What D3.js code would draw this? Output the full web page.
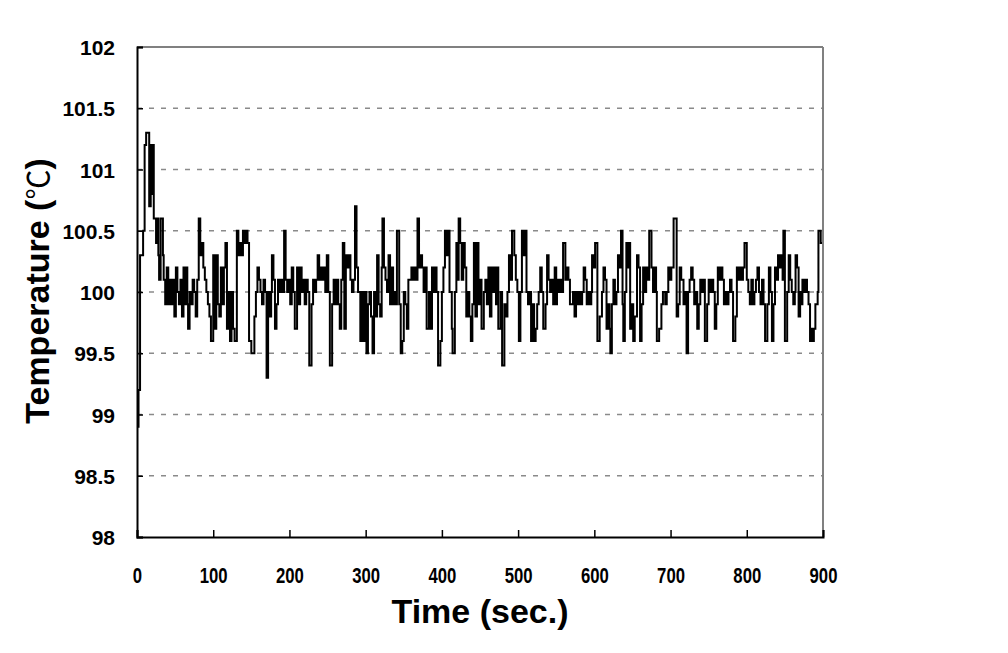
<!DOCTYPE html>
<html>
<head>
<meta charset="utf-8">
<script src="https://cdn.jsdelivr.net/npm/d3@7"></script>
<style>
  body { margin: 0; background: #fff; }
  svg { display: block; }
</style>
</head>
<body>
<script>
// time (sec.) at which each reading starts, and the reading (degC)
var times = [0,2,4,8,10,12,16,18,20,21,22,25,27,28,29,31,34,35,37,39,41,43,45,47,49,51,53,55,57,59,61,63,64,66,67,69,71,73,75,77,79,81,83,85,87,89,91,93,95,97,100,102,104,106,108,110,112,114,116,118,120,122,124,126,128,131,133,135,137,139,141,143,145,147,150,154,156,158,160,162,164,166,168,170,172,174,176,177,179,181,183,185,187,189,191,193,195,197,199,201,203,205,207,210,212,214,216,218,220,222,224,226,229,231,233,235,237,239,241,243,245,247,249,251,253,256,258,260,262,264,266,268,270,272,274,276,278,280,282,284,286,288,290,293,295,297,299,301,303,305,307,309,311,313,315,317,319,321,322,324,326,328,330,332,334,336,338,340,341,344,346,348,350,352,354,356,360,362,364,366,368,370,372,374,376,378,380,383,385,387,389,391,393,395,398,400,402,404,406,408,410,413,414,417,419,421,422,424,426,428,430,432,434,436,438,440,442,444,446,448,450,452,455,457,459,461,463,465,467,469,471,473,474,477,479,482,484,486,488,490,492,495,497,499,501,503,505,507,509,511,513,515,517,519,521,523,525,527,529,531,533,536,538,540,542,544,546,548,550,551,553,555,557,559,562,564,566,568,572,574,576,578,580,582,584,586,588,590,592,594,596,597,599,601,604,607,610,612,614,616,618,620,621,623,625,627,629,631,633,635,637,638,640,642,644,646,647,649,651,653,656,658,660,662,664,666,668,670,672,675,677,679,681,682,685,688,690,693,695,697,699,701,704,708,710,712,714,717,719,721,723,725,727,729,731,733,735,737,739,741,743,745,748,750,752,754,756,758,760,762,764,766,768,770,772,774,776,778,780,782,785,787,789,791,793,795,797,800,802,804,806,808,810,812,814,816,818,820,822,824,827,829,831,833,835,837,839,841,843,845,847,848,850,853,855,857,859,861,863,864,866,868,870,872,873,875,877,879,881,883,885,887,888,890,893,894,897,900];
var temps = [98.9,99.2,100.3,100.5,101.2,101.3,100.7,101.2,100.8,101.2,100.6,100.4,100.6,100.3,100.1,100.6,100.3,100.1,99.9,100.2,99.9,100.1,99.9,100.1,99.8,100.2,100,99.9,100.1,99.8,100.2,99.9,100.2,99.9,99.7,100,99.9,100.1,100,99.8,100.1,100.6,100.3,100.4,100.2,100.1,100,99.9,99.8,99.6,100.3,99.7,100.3,99.9,99.8,100.2,99.9,100.2,100.4,99.7,100,99.6,100,99.7,99.6,100.5,100.3,100.4,100.3,100.5,100.4,100.5,100.4,99.6,99.5,99.8,100,100.2,100.1,100,99.9,100.1,100,99.3,100,99.8,100,100.3,100.1,99.7,99.9,100.1,100,100.1,100,100.5,100.1,100,100.1,99.9,100.2,100,99.7,100.2,99.9,100.2,100,100.1,99.9,100.1,100,99.4,99.9,100.1,100,100.1,100.3,100.1,100.2,100.1,100.2,100,100.3,100,99.4,99.9,100.1,99.9,100.1,99.9,99.7,100.1,100.4,99.7,100.3,100.2,100.3,100.1,100,100.1,100.7,100.2,100,99.6,100,99.6,100,99.5,99.9,100,99.8,99.5,100,99.8,100.3,99.9,99.8,100.2,100.6,100.2,100.1,100,100.3,99.9,100.2,99.9,100,99.9,100.5,99.9,99.5,99.6,100,99.9,99.7,100.1,100.2,100.1,100.2,100.1,100.6,100.2,100.3,100.2,100,100.2,99.7,100,99.7,100.2,100,100.2,100,99.4,99.6,100,100.2,100.5,100.3,100.5,100,99.7,99.5,100,100.4,100.1,100.6,100.4,100.1,100.4,100.2,99.8,100,99.8,99.6,99.9,100.4,99.8,100.4,99.9,100.1,99.7,100,100.1,99.9,100.2,99.8,100.2,100,100.2,99.9,100.2,99.7,100,99.4,99.9,99.8,100,100.3,100.1,100.5,100.3,100.1,100,99.6,100,100.5,100.3,100.5,100,99.9,100,99.6,99.9,99.6,99.7,99.9,100,100.2,100,99.7,99.9,100.3,100.1,100,100.1,99.9,100.2,99.9,100.1,100,100.1,100,100.4,100.1,100.2,100.1,99.9,100,99.8,100,99.9,100,99.9,100,100.2,100.1,99.9,100,99.9,100,100.3,100.2,100.4,99.6,99.8,100,100.2,100.1,99.7,99.9,99.7,99.5,99.9,100.1,99.9,100,100.3,100.2,100.5,99.9,99.6,100,100.4,100.2,100.4,99.7,99.9,99.6,99.8,100.3,100.2,99.6,99.9,100.2,100,100.2,100.1,100.5,100.2,100,100.2,100,99.6,99.7,99.9,100,99.9,100,100.2,100.1,100.2,100.6,99.8,99.9,100.2,100.1,99.9,100,99.5,100,100.1,100.2,100.1,99.9,100,99.7,99.9,100.1,100,100.1,99.6,99.9,100.1,100,100.1,100,99.7,99.9,100.2,100.1,100.2,100.1,99.9,100,99.9,100,100.1,100,99.6,99.8,100.2,100.1,100.2,100.1,100.2,100.4,100.1,100,99.9,100.1,99.9,100,100.1,100.2,100,99.9,100.1,99.9,99.6,99.9,100.2,100,99.6,99.9,100.2,100.1,100.3,100.2,100.3,100.1,100.5,99.6,100,100.3,100.1,100,99.9,100,100.3,100.2,99.8,100,99.9,100.1,100,100.1,100,99.9,99.6,99.7,99.6,99.7,99.9,100,100.5,100.4,100.4];

var xTicks = [0, 100, 200, 300, 400, 500, 600, 700, 800, 900];
var yTicks = [98, 98.5, 99, 99.5, 100, 100.5, 101, 101.5, 102];

var w = 1008, h = 653;
var plotL = 137, plotR = 823, plotT = 47, plotB = 537;

var svg = d3.select("body").append("svg")
    .attr("width", w)
    .attr("height", h);

var x = d3.scaleLinear().domain([0, 900]).range([plotL, plotR]);
var y = d3.scaleLinear().domain([98, 102]).range([plotB, plotT]);

// dashed grid lines
svg.append("g")
    .selectAll("line")
    .data(yTicks.filter(function(d) { return d > 98 && d < 102; }))
    .enter().append("line")
    .attr("x1", plotL).attr("x2", plotR)
    .attr("y1", function(d) { return y(d); })
    .attr("y2", function(d) { return y(d); })
    .attr("stroke", "#8a8a8a")
    .attr("stroke-width", 1.5)
    .attr("stroke-dasharray", "5,7");

// data line (stepped)
var pts = times.map(function(t, i) { return [t, temps[i]]; });
var line = d3.line()
    .x(function(d) { return x(d[0]); })
    .y(function(d) { return y(d[1]); })
    .curve(d3.curveStepAfter);

svg.append("path")
    .datum(pts)
    .attr("d", line)
    .attr("fill", "none")
    .attr("stroke", "#000")
    .attr("stroke-width", 2);

// frame: top and right gray, left and bottom black
svg.append("line").attr("x1", plotL).attr("x2", plotR).attr("y1", plotT).attr("y2", plotT)
    .attr("stroke", "#808080").attr("stroke-width", 2);
svg.append("line").attr("x1", plotR).attr("x2", plotR).attr("y1", plotT).attr("y2", plotB)
    .attr("stroke", "#808080").attr("stroke-width", 2);

var xAxis = d3.axisBottom(x).tickValues(xTicks).tickSize(-7).tickFormat(d3.format("d"));
var yAxis = d3.axisLeft(y).tickValues(yTicks).tickSize(-6).tickFormat(function(d) { return d; });

var gx = svg.append("g")
    .attr("transform", "translate(0," + plotB + ")")
    .call(xAxis);
gx.select(".domain").attr("stroke", "#000").attr("stroke-width", 2);
gx.selectAll(".tick line").attr("stroke", "#000").attr("stroke-width", 1.5);
gx.selectAll(".tick text")
    .attr("y", 0)
    .attr("dy", 0)
    .attr("transform", "translate(0,46) scale(0.76,1)")
    .style("font-family", "'Liberation Sans', Arial, sans-serif")
    .style("font-weight", "bold")
    .style("font-size", "22px")
    .attr("fill", "#000");

var gy = svg.append("g")
    .attr("transform", "translate(" + plotL + ",0)")
    .call(yAxis);
gy.select(".domain").attr("stroke", "#000").attr("stroke-width", 2);
gy.selectAll(".tick line").attr("stroke", "#000").attr("stroke-width", 1.5);
gy.selectAll(".tick text")
    .attr("x", -22)
    .attr("dy", "0.36em")
    .style("font-family", "'Liberation Sans', Arial, sans-serif")
    .style("font-weight", "bold")
    .style("font-size", "21px")
    .attr("fill", "#000");

// axis titles
svg.append("text")
    .attr("x", 480)
    .attr("y", 623)
    .attr("text-anchor", "middle")
    .style("font-family", "'Liberation Sans', Arial, sans-serif")
    .style("font-weight", "bold")
    .style("font-size", "34px")
    .text("Time (sec.)");

var yTitle = svg.append("text")
    .attr("transform", "translate(49,291) rotate(-90)")
    .attr("text-anchor", "middle")
    .style("font-family", "'Liberation Sans', Arial, sans-serif")
    .style("font-weight", "bold")
    .style("font-size", "34px");
yTitle.append("tspan").text("Temperature (");
yTitle.append("tspan")
    .style("font-family", "'Noto Sans CJK KR', sans-serif")
    .style("font-weight", "normal")
    .style("font-size", "30px")
    .text("℃");
yTitle.append("tspan").text(")");
</script>
</body>
</html>
